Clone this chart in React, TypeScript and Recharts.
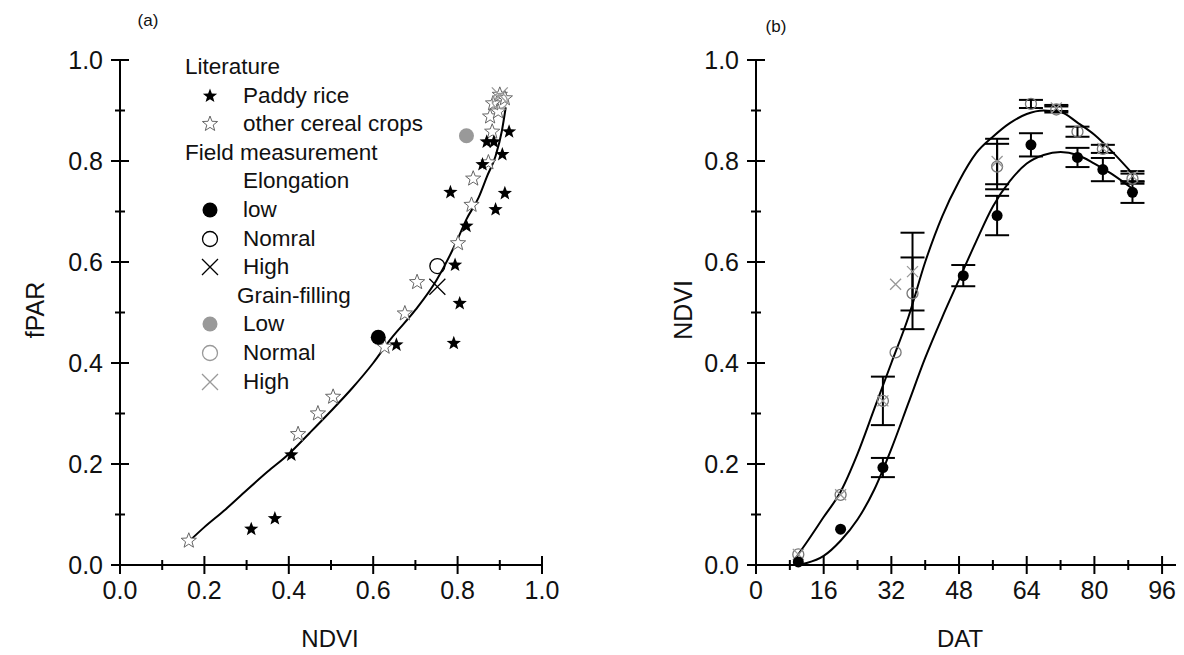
import React from 'react';
import { ComposedChart, Scatter, Line, XAxis, YAxis, ErrorBar } from 'recharts';

// ---- panel (a): literature data (NDVI vs fPAR)
const paddyNdvi = [0.311, 0.367, 0.406, 0.655, 0.791, 0.805, 0.794, 0.821, 0.783, 0.912, 0.89, 0.922, 0.869, 0.886, 0.906, 0.859];
const paddyFpar = [0.071, 0.092, 0.218, 0.436, 0.439, 0.518, 0.594, 0.671, 0.738, 0.736, 0.704, 0.858, 0.838, 0.838, 0.813, 0.793];

const cerealNdvi = [0.163, 0.422, 0.469, 0.505, 0.627, 0.675, 0.704, 0.801, 0.833, 0.837, 0.873, 0.882, 0.877, 0.896, 0.884, 0.9, 0.912];
const cerealFpar = [0.048, 0.259, 0.3, 0.333, 0.432, 0.498, 0.56, 0.637, 0.713, 0.765, 0.797, 0.858, 0.888, 0.898, 0.914, 0.931, 0.924];

// field measurement (a)
const elongLowA = [{ x: 0.612, y: 0.451 }];
const elongNormalA = [{ x: 0.752, y: 0.592 }];
const elongHighA = [{ x: 0.752, y: 0.551 }];
const grainLowA = [{ x: 0.821, y: 0.85 }];
const grainNormalA = [{ x: 0.9, y: 0.919 }];
const grainHighA = [{ x: 0.9, y: 0.93 }];

// fitted curve (a)
const fitANdvi = [0.165, 0.2, 0.25, 0.3, 0.35, 0.4, 0.45, 0.5, 0.55, 0.6, 0.64, 0.7, 0.75, 0.8, 0.82, 0.85, 0.87, 0.89, 0.905, 0.914];
const fitAFpar = [0.048, 0.075, 0.11, 0.148, 0.185, 0.22, 0.262, 0.305, 0.35, 0.4, 0.446, 0.505, 0.564, 0.645, 0.683, 0.728, 0.77, 0.81, 0.86, 0.906];

// ---- panel (b): NDVI vs DAT
const lowDat = [10, 20, 30, 49, 57, 65, 76, 82, 89];
const lowNdvi = [0.006, 0.071, 0.193, 0.573, 0.692, 0.832, 0.807, 0.783, 0.738];
const lowErr = [0, 0, 0.019, 0.021, 0.039, 0.023, 0.019, 0.023, 0.021];

const normalDat = [10, 20, 30, 33, 37, 57, 65, 71, 76, 82, 89];
const normalNdvi = [0.021, 0.139, 0.325, 0.421, 0.538, 0.789, 0.913, 0.902, 0.858, 0.824, 0.765];
const normalErr = [0, 0, 0.048, 0, 0.071, 0.045, 0.008, 0.006, 0.01, 0.008, 0.01];

const highDat = [10, 20, 30, 33, 37, 57, 71, 82, 89];
const highNdvi = [0.021, 0.139, 0.325, 0.556, 0.581, 0.799, 0.905, 0.825, 0.77];
const highErr = [0, 0, 0, 0, 0.077, 0.045, 0.006, 0, 0.01];

const fitLowDat = [9.5, 12, 16, 20, 24, 28, 32, 36, 40, 44, 48, 52, 56, 60, 64, 68, 72, 76, 80, 84, 89];
const fitLowNdvi = [0.0, 0.004, 0.018, 0.048, 0.09, 0.15, 0.23, 0.32, 0.41, 0.49, 0.565, 0.64, 0.71, 0.76, 0.795, 0.812, 0.818, 0.812, 0.795, 0.775, 0.745];
const fitUpDat = [9.5, 12, 16, 20, 24, 28, 32, 36, 40, 44, 48, 52, 56, 60, 64, 68, 72, 76, 80, 84, 89];
const fitUpNdvi = [0.015, 0.045, 0.095, 0.145, 0.22, 0.31, 0.4, 0.49, 0.6, 0.69, 0.76, 0.815, 0.848, 0.875, 0.893, 0.9, 0.897, 0.876, 0.852, 0.82, 0.775];

// ticks
const ticks01 = [0, 0.1, 0.2, 0.3, 0.4, 0.5, 0.6, 0.7, 0.8, 0.9, 1.0];
const major01 = [0, 0.2, 0.4, 0.6, 0.8, 1.0];
const ticksDat = [0, 8, 16, 24, 32, 40, 48, 56, 64, 72, 80, 88, 96];
const majorDat = [0, 16, 32, 48, 64, 80, 96];

const legendRows = [
  { label: 'Literature', marker: 'none', kind: 'header' },
  { label: 'Paddy rice', marker: 'star', kind: 'item' },
  { label: 'other cereal crops', marker: 'openStar', kind: 'item' },
  { label: 'Field measurement', marker: 'none', kind: 'header' },
  { label: 'Elongation', marker: 'none', kind: 'sub' },
  { label: 'low', marker: 'dot', kind: 'item' },
  { label: 'Nomral', marker: 'ring', kind: 'item' },
  { label: 'High', marker: 'cross', kind: 'item' },
  { label: 'Grain-filling', marker: 'none', kind: 'sub2' },
  { label: 'Low', marker: 'grayDot', kind: 'item' },
  { label: 'Normal', marker: 'grayRing', kind: 'item' },
  { label: 'High', marker: 'grayCross', kind: 'item' },
];

const FONT = '"Liberation Sans", Arial, Helvetica, sans-serif';

const zip = (xs: number[], ys: number[], es?: number[]) =>
  xs.map((x, i) => ({ x, y: ys[i], err: es ? es[i] : 0 }));

const starPoints = (cx: number, cy: number, R: number) => {
  const pts: string[] = [];
  for (let k = 0; k < 10; k++) {
    const r = k % 2 === 0 ? R : R * 0.42;
    const a = -Math.PI / 2 + (k * Math.PI) / 5;
    pts.push(`${cx + r * Math.cos(a)},${cy + r * Math.sin(a)}`);
  }
  return pts.join(' ');
};

const drawMarker = (type: string, cx: number, cy: number, small = false) => {
  const r = small ? 5.5 : 7.5;
  const h = small ? 5.5 : 8;
  switch (type) {
    case 'star':
      return <polygon points={starPoints(cx, cy, 7.5)} fill="#000" />;
    case 'openStar':
      return <polygon points={starPoints(cx, cy, 8)} fill="#fff" stroke="#666" strokeWidth={1} />;
    case 'dot':
      return <circle cx={cx} cy={cy} r={r} fill="#000" />;
    case 'ring':
      return <circle cx={cx} cy={cy} r={r} fill="none" stroke="#000" strokeWidth={1.3} />;
    case 'cross':
      return <path d={`M${cx - h},${cy - h}L${cx + h},${cy + h}M${cx - h},${cy + h}L${cx + h},${cy - h}`} stroke="#000" strokeWidth={1.3} />;
    case 'grayDot':
      return <circle cx={cx} cy={cy} r={r} fill="#999" />;
    case 'grayRing':
      return <circle cx={cx} cy={cy} r={r} fill="none" stroke={small ? '#777' : '#999'} strokeWidth={1.3} />;
    case 'grayCross':
      return <path d={`M${cx - h},${cy - h}L${cx + h},${cy + h}M${cx - h},${cy + h}L${cx + h},${cy - h}`} stroke="#999" strokeWidth={1.3} />;
    default:
      return null;
  }
};

const shape = (type: string, small = false) => (props: any) => drawMarker(type, props.cx, props.cy, small);

const isMajor = (v: number, major: number[]) => major.some((m) => Math.abs(m - v) < 1e-6);

const makeYTick = (major: number[]) => (props: any) => {
  const { x, y, payload } = props;
  const big = isMajor(payload.value, major);
  const h = big ? 9 : 5;
  return (
    <g>
      <line x1={x - h} x2={x + h} y1={y} y2={y} stroke="#000" strokeWidth={2} />
      {big && (
        <text x={x - 17} y={y} dy="0.36em" textAnchor="end" fontSize={25} fill="#111" fontFamily={FONT}>
          {payload.value.toFixed(1)}
        </text>
      )}
    </g>
  );
};

const makeXTick = (major: number[], fmt: (v: number) => string) => (props: any) => {
  const { x, y, payload } = props;
  const big = isMajor(payload.value, major);
  const h = big ? 9 : 5;
  return (
    <g>
      <line x1={x} x2={x} y1={y - h} y2={y + h} stroke="#000" strokeWidth={2} />
      {big && (
        <text x={x} y={y + 25} dy="0.36em" textAnchor="middle" fontSize={25} fill="#111" fontFamily={FONT}>
          {fmt(payload.value)}
        </text>
      )}
    </g>
  );
};

const axisLine = { stroke: '#000', strokeWidth: 2 };

const Title = ({ text, x, y, rotate = false, size = 24 }: any) => (
  <div
    style={{
      position: 'absolute',
      left: x,
      top: y,
      transform: `translate(-50%, -50%)${rotate ? ' rotate(-90deg)' : ''}`,
      fontFamily: FONT,
      fontSize: size,
      color: '#111',
      whiteSpace: 'nowrap',
      lineHeight: 1,
    }}
  >
    {text}
  </div>
);

const LegendA = () => (
  <div style={{ position: 'absolute', left: 0, top: 0 }}>
    {legendRows.map((row, i) => {
      const cy = 59 + i * 28.6;
      const textX = row.kind === 'header' ? 177 : row.kind === 'sub2' ? 229 : 235;
      return (
        <React.Fragment key={i}>
          {row.marker !== 'none' && (
            <svg width={24} height={24} style={{ position: 'absolute', left: 190, top: cy - 12 }}>
              {drawMarker(row.marker, 12, 12)}
            </svg>
          )}
          <div
            style={{
              position: 'absolute',
              left: textX,
              top: cy,
              transform: 'translateY(-50%)',
              fontFamily: FONT,
              fontSize: 22.5,
              color: '#111',
              whiteSpace: 'nowrap',
              lineHeight: 1,
            }}
          >
            {row.label}
          </div>
        </React.Fragment>
      );
    })}
  </div>
);

export default function App() {
  const paddy = zip(paddyNdvi, paddyFpar);
  const cereal = zip(cerealNdvi, cerealFpar);
  const fitA = zip(fitANdvi, fitAFpar);
  const low = zip(lowDat, lowNdvi, lowErr);
  const normal = zip(normalDat, normalNdvi, normalErr);
  const high = zip(highDat, highNdvi, highErr);
  const fitLow = zip(fitLowDat, fitLowNdvi);
  const fitUp = zip(fitUpDat, fitUpNdvi);

  return (
    <div style={{ position: 'relative', width: 1168, height: 647, background: '#fff' }}>
      {/* panel (a) */}
      <div style={{ position: 'absolute', left: 0, top: 0 }}>
        <ComposedChart width={580} height={630} margin={{ top: 52, left: 52, right: 46, bottom: 13 }}>
          <XAxis
            type="number"
            dataKey="x"
            domain={[0, 1]}
            ticks={ticks01}
            interval={0}
            tickSize={0}
            tickMargin={0}
            tickLine={false}
            axisLine={axisLine}
            height={60}
            tick={makeXTick(major01, (v) => v.toFixed(1))}
          />
          <YAxis
            type="number"
            dataKey="y"
            domain={[0, 1]}
            ticks={ticks01}
            interval={0}
            tickSize={0}
            tickMargin={0}
            tickLine={false}
            axisLine={axisLine}
            width={60}
            tick={makeYTick(major01)}
          />
          <Line data={fitA} dataKey="y" type="monotone" stroke="#000" strokeWidth={2} dot={false} isAnimationActive={false} />
          <Scatter data={cereal} dataKey="y" shape={shape('openStar')} isAnimationActive={false} />
          <Scatter data={paddy} dataKey="y" shape={shape('star')} isAnimationActive={false} />
          <Scatter data={elongLowA} dataKey="y" shape={shape('dot')} isAnimationActive={false} />
          <Scatter data={elongNormalA} dataKey="y" shape={shape('ring')} isAnimationActive={false} />
          <Scatter data={elongHighA} dataKey="y" shape={shape('cross')} isAnimationActive={false} />
          <Scatter data={grainLowA} dataKey="y" shape={shape('grayDot')} isAnimationActive={false} />
          <Scatter data={grainNormalA} dataKey="y" shape={shape('grayRing')} isAnimationActive={false} />
          <Scatter data={grainHighA} dataKey="y" shape={shape('grayCross')} isAnimationActive={false} />
        </ComposedChart>
      </div>
      <LegendA />
      <Title text="(a)" x={140} y={12} size={17} />
      <Title text="fPAR" x={27} y={302} rotate size={25} />
      <Title text="NDVI" x={322} y={631} />

      {/* panel (b) */}
      <div style={{ position: 'absolute', left: 600, top: 0 }}>
        <ComposedChart width={576} height={630} margin={{ top: 52, left: 88, right: 5, bottom: 13 }}>
          <XAxis
            type="number"
            dataKey="x"
            domain={[0, 100]}
            ticks={ticksDat}
            interval={0}
            tickSize={0}
            tickMargin={0}
            tickLine={false}
            axisLine={axisLine}
            height={60}
            tick={makeXTick(majorDat, (v) => String(v))}
          />
          <YAxis
            type="number"
            dataKey="y"
            domain={[0, 1]}
            ticks={ticks01}
            interval={0}
            tickSize={0}
            tickMargin={0}
            tickLine={false}
            axisLine={axisLine}
            width={60}
            tick={makeYTick(major01)}
          />
          <Line data={fitUp} dataKey="y" type="monotone" stroke="#000" strokeWidth={2} dot={false} isAnimationActive={false} />
          <Line data={fitLow} dataKey="y" type="monotone" stroke="#000" strokeWidth={2} dot={false} isAnimationActive={false} />
          <Scatter data={normal} dataKey="y" shape={shape('grayRing', true)} isAnimationActive={false}>
            <ErrorBar dataKey="err" direction="y" width={12} stroke="#000" strokeWidth={2} />
          </Scatter>
          <Scatter data={high} dataKey="y" shape={shape('grayCross', true)} isAnimationActive={false}>
            <ErrorBar dataKey="err" direction="y" width={12} stroke="#000" strokeWidth={2} />
          </Scatter>
          <Scatter data={low} dataKey="y" shape={shape('dot', true)} isAnimationActive={false}>
            <ErrorBar dataKey="err" direction="y" width={12} stroke="#000" strokeWidth={2} />
          </Scatter>
        </ComposedChart>
      </div>
      <Title text="(b)" x={768} y={18} size={17} />
      <Title text="NDVI" x={675} y={302} rotate size={25} />
      <Title text="DAT" x={952} y={631} />
    </div>
  );
}
